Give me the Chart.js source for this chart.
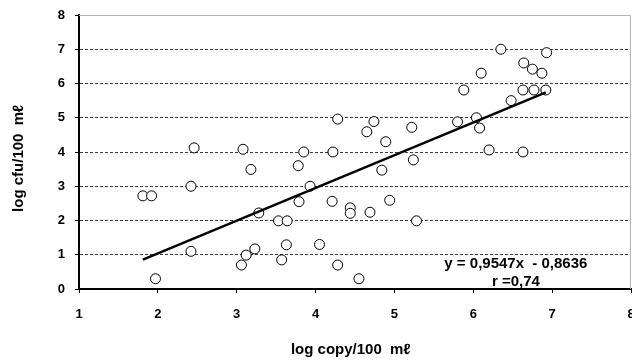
<!DOCTYPE html>
<html>
<head>
<meta charset="utf-8">
<script src="https://cdn.jsdelivr.net/npm/chart.js@4"></script>
<style>
	html, body { margin: 0; padding: 0; background: #fff; }
	#wrap { width: 632px; height: 360px; }
</style>
</head>
<body>
<div id="wrap"><canvas id="scatterChart" width="632" height="360"></canvas></div>
<script>
const X_VALUES = [
	1.81, 1.92, 1.97, 2.42, 2.42, 2.46, 3.06, 3.08, 3.12, 3.18,
	3.23, 3.28, 3.53, 3.57, 3.64, 3.63, 3.78, 3.79, 3.85, 3.93,
	4.05, 4.21, 4.22, 4.28, 4.28, 4.44, 4.44, 4.55, 4.65, 4.69,
	4.74, 4.84, 4.89, 4.94, 5.22, 5.24, 5.28, 5.80, 5.88, 6.04,
	6.08, 6.10, 6.20, 6.35, 6.48, 6.63, 6.63, 6.64, 6.75, 6.77,
	6.87, 6.92, 6.93,
];
const Y_VALUES = [
	2.72, 2.72, 0.30, 3.00, 1.10, 4.12, 0.70, 4.08, 0.99, 3.49,
	1.17, 2.22, 1.99, 0.85, 1.99, 1.29, 3.60, 2.55, 4.00, 3.00,
	1.30, 2.56, 4.00, 4.96, 0.70, 2.37, 2.21, 0.30, 4.59, 2.24,
	4.89, 3.47, 4.30, 2.59, 4.72, 3.77, 1.99, 4.88, 5.81, 5.00,
	4.70, 6.30, 4.06, 7.00, 5.50, 4.00, 5.81, 6.60, 6.42, 5.81,
	6.30, 5.81, 6.90,
];
// trend line ends
const TREND_X = [1.81, 6.92];
const TREND_Y = [0.86, 5.74];
const X_TICKS = [1, 2, 3, 4, 5, 6, 7, 8];
const Y_TICKS = [0, 1, 2, 3, 4, 5, 6, 7, 8];
const EQUATION_LINES = ['y = 0,9547x  - 0,8636', 'r =0,74'];
const EQUATION_POS = { x: 6.54, y: [0.74, 0.22] };

const FONT = 'Liberation Sans, Arial, DejaVu Sans, sans-serif';

const points = X_VALUES.map((x, i) => ({ x: x, y: Y_VALUES[i] }));
const trend = TREND_X.map((x, i) => ({ x: x, y: TREND_Y[i] }));

const frameAndText = {
	id: 'frameAndText',
	beforeDatasetsDraw(chart) {
		const { ctx, chartArea: a } = chart;
		ctx.save();
		ctx.strokeStyle = '#b4b4b4';
		ctx.lineWidth = 1;
		ctx.beginPath();
		ctx.moveTo(a.left, a.top + 0.5);
		ctx.lineTo(a.right - 0.5, a.top + 0.5);
		ctx.lineTo(a.right - 0.5, a.bottom);
		ctx.stroke();
		ctx.restore();
	},
	afterDraw(chart) {
		const { ctx, scales } = chart;
		ctx.save();
		ctx.fillStyle = '#000';
		ctx.font = 'bold 15px ' + FONT;
		ctx.textAlign = 'center';
		ctx.textBaseline = 'middle';
		const px = scales.x.getPixelForValue(EQUATION_POS.x);
		EQUATION_LINES.forEach((line, i) => {
			ctx.fillText(line, px, scales.y.getPixelForValue(EQUATION_POS.y[i]));
		});
		ctx.restore();
	},
};

new Chart(document.querySelector('#scatterChart'), {
	type: 'scatter',
	data: {
		datasets: [
			{
				type: 'line',
				label: 'trend',
				data: trend,
				borderColor: '#000',
				borderWidth: 2.5,
				pointRadius: 0,
				fill: false,
				order: 0,
			},
			{
				label: 'samples',
				data: points,
				backgroundColor: '#fff',
				borderColor: '#000',
				borderWidth: 1,
				pointRadius: 5,
				order: 1,
			},
		],
	},
	options: {
		responsive: false,
		animation: false,
		layout: {
			autoPadding: false,
			padding: { top: 15, right: 1, left: 0, bottom: 0 },
		},
		scales: {
			x: {
				type: 'linear',
				position: 'bottom',
				min: 1,
				max: 8,
				afterBuildTicks: scale => {
					scale.ticks = X_TICKS.map(v => ({ value: v }));
				},
				afterFit: scale => {
					scale.height = 71;
					scale.paddingLeft = 0;
					scale.paddingRight = 0;
				},
				grid: {
					drawOnChartArea: false,
					drawTicks: true,
					tickLength: 4,
					tickColor: '#000',
				},
				border: { color: '#000', width: 2 },
				ticks: {
					color: '#000',
					padding: 14,
					maxRotation: 0,
					font: { family: FONT, size: 13, weight: 'bold' },
				},
				title: {
					display: true,
					text: 'log copy/100  mℓ  ',
					color: '#000',
					padding: { top: 0, bottom: 1 },
					font: { family: FONT, size: 15, weight: 'bold' },
				},
			},
			y: {
				min: 0,
				max: 8,
				afterBuildTicks: scale => {
					scale.ticks = Y_TICKS.map(v => ({ value: v }));
				},
				afterFit: scale => {
					scale.width = 79;
					scale.paddingTop = 0;
					scale.paddingBottom = 0;
				},
				grid: {
					color: ctx =>
						ctx.tick && (ctx.tick.value === 0 || ctx.tick.value === 8)
							? 'rgba(0,0,0,0)'
							: '#3c3c3c',
					lineWidth: 1,
					drawTicks: true,
					tickLength: 4,
					tickColor: '#000',
				},
				border: { color: '#000', width: 2, dash: [3, 2] },
				ticks: {
					color: '#000',
					padding: 10,
					font: { family: FONT, size: 13, weight: 'bold' },
				},
				title: {
					display: true,
					text: 'log cfu/100  mℓ   ',
					color: '#000',
					padding: { top: 10, bottom: 0 },
					font: { family: FONT, size: 15, weight: 'bold' },
				},
			},
		},
		plugins: {
			legend: { display: false },
			tooltip: { enabled: false },
		},
	},
	plugins: [frameAndText],
});
</script>
</body>
</html>
